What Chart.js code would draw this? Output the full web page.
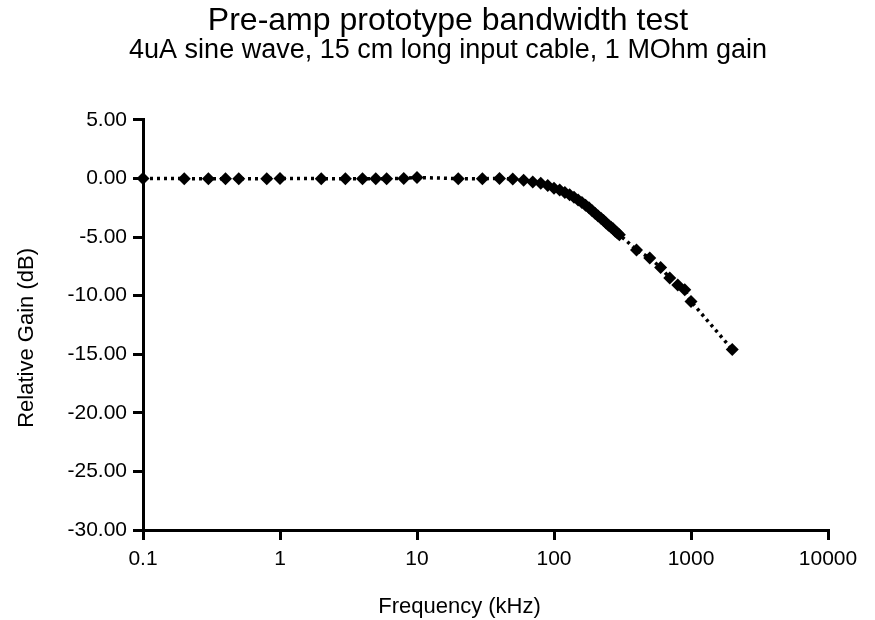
<!DOCTYPE html>
<html>
<head>
<meta charset="utf-8">
<script src="https://cdn.jsdelivr.net/npm/chart.js@4.4.1/dist/chart.umd.min.js"></script>
<style>
  html, body { margin: 0; padding: 0; background: #fff; }
  #wrap { width: 875px; height: 620px; }
</style>
</head>
<body>
<div id="wrap"><canvas id="bandwidthChart" width="875" height="620"></canvas></div>
<script>
// frequency in kHz
const frequencies = [
    0.1, 0.2, 0.3, 0.4, 0.5, 0.8, 1, 2, 3, 4, 5, 6, 8, 10, 20, 30, 40, 50, 60, 70, 80, 90,
    100, 110, 120, 130, 140, 150, 160, 170, 180, 190, 200, 210, 220, 230, 240, 250,
    260, 270, 280, 290, 300, 400, 500, 600, 700, 800, 900, 1000, 2000
];
// relative gain in dB
const gains = [
    0.00, -0.02, -0.03, -0.02, -0.03, -0.02, -0.01, -0.02, -0.03, -0.02, -0.02, -0.03, 0.00, 0.08, -0.02, -0.03, 0.00, -0.05, -0.15, -0.30, -0.42, -0.60,
    -0.85, -1.00, -1.20, -1.40, -1.60, -1.85, -2.05, -2.30, -2.50, -2.75, -3.00, -3.20, -3.40, -3.60, -3.80, -4.00,
    -4.15, -4.30, -4.50, -4.65, -4.80, -6.10, -6.80, -7.60, -8.50, -9.10, -9.50, -10.50, -14.60
];
const xTickValues = [0.1, 1, 10, 100, 1000, 10000];
const xAxisTitle = 'Frequency (kHz)';
const yAxisTitle = 'Relative Gain (dB)';

const points = frequencies.map((f, i) => ({ x: f, y: gains[i] }));
const fontFamily = '"Liberation Sans", Arial, Helvetica, sans-serif';

// axis titles sit a little off-centre in the original, so draw them here
const axisTitles = {
    id: 'axisTitles',
    afterDraw(chart) {
        const ctx = chart.ctx;
        const { x, y } = chart.scales;
        ctx.save();
        ctx.fillStyle = '#000';
        ctx.font = '22px ' + fontFamily;
        ctx.textAlign = 'center';
        ctx.textBaseline = 'middle';
        ctx.fillText(xAxisTitle, (x.left + x.right) / 2 - 26, 607);
        ctx.translate(27, (y.top + y.bottom) / 2 + 13);
        ctx.rotate(-Math.PI / 2);
        ctx.fillText(yAxisTitle, 0, 0);
        ctx.restore();
    }
};

new Chart(document.getElementById('bandwidthChart'), {
    type: 'scatter',
    data: {
        datasets: [{
            label: 'Relative Gain',
            data: points,
            showLine: true,
            borderColor: '#000',
            backgroundColor: '#000',
            borderWidth: 3.5,
            borderDash: [3, 4],
            pointStyle: 'rectRot',
            pointRadius: 6.5,
            pointBorderWidth: 0,
            clip: false
        }]
    },
    options: {
        responsive: false,
        animation: false,
        layout: { padding: { top: 0, right: 0, bottom: 0, left: 21 } },
        plugins: {
            legend: { display: false },
            tooltip: { enabled: false },
            title: {
                display: true,
                text: 'Pre-amp prototype bandwidth test',
                color: '#000',
                font: { family: fontFamily, size: 32, weight: 'normal' },
                padding: { top: 2, bottom: 0 }
            },
            subtitle: {
                display: true,
                text: '4uA sine wave, 15 cm long input cable, 1 MOhm gain',
                color: '#000',
                font: { family: fontFamily, size: 27 },
                padding: { top: -6, bottom: 53 }
            }
        },
        scales: {
            x: {
                type: 'logarithmic',
                min: 0.1,
                max: 10000,
                afterBuildTicks: scale => {
                    scale.ticks = xTickValues.map(v => ({ value: v }));
                },
                afterFit: scale => { scale.height = 90; },
                ticks: {
                    color: '#000',
                    padding: 7,
                    maxRotation: 0,
                    font: { family: fontFamily, size: 21 },
                    callback: value => String(value)
                },
                grid: { drawOnChartArea: false, drawTicks: true, tickLength: 10, color: '#000', lineWidth: 3 },
                border: { display: true, color: '#000', width: 3 }
            },
            y: {
                min: -30,
                max: 5,
                afterFit: scale => { scale.width = 122; },
                ticks: {
                    stepSize: 5,
                    color: '#000',
                    padding: 6,
                    font: { family: fontFamily, size: 21 },
                    callback: value => value.toFixed(2)
                },
                grid: { drawOnChartArea: false, drawTicks: true, tickLength: 10, color: '#000', lineWidth: 3 },
                border: { display: true, color: '#000', width: 3 }
            },
            // empty right-hand axis, only keeps the plot clear of the right edge
            yRight: {
                position: 'right',
                display: true,
                afterFit: scale => { scale.width = 47; },
                ticks: { display: false },
                grid: { display: false },
                border: { display: false }
            }
        }
    },
    plugins: [axisTitles]
});
</script>
</body>
</html>
